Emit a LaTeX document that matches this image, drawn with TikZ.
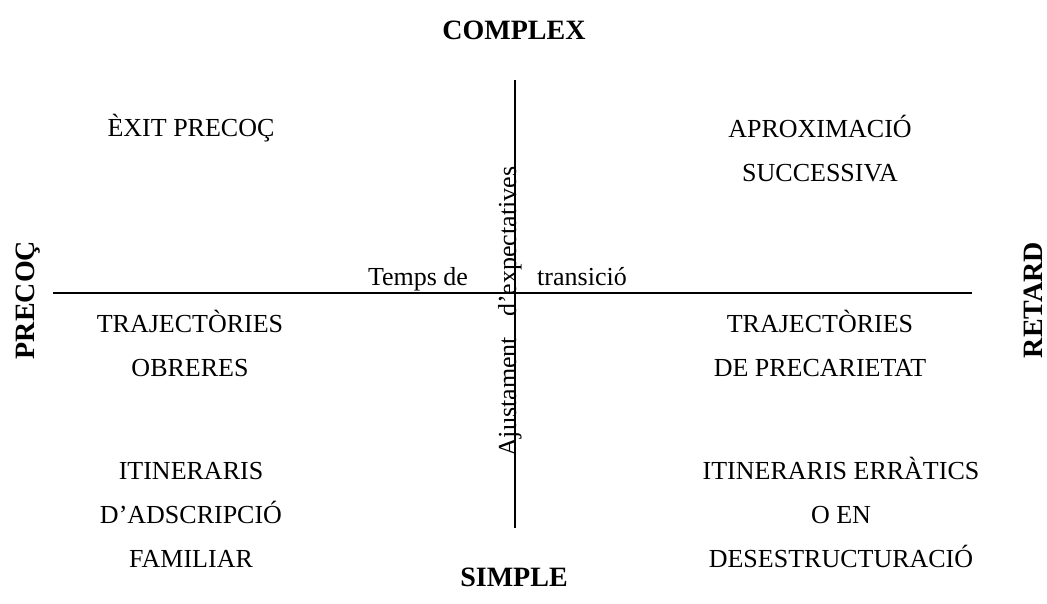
\documentclass[tikz,border=0pt]{standalone}
\usepackage{fontspec}
\setmainfont{Liberation Serif}
\usetikzlibrary{positioning}
\tikzset{
  quad/.style={font=\fontsize{26}{44}\selectfont, inner sep=0pt, anchor=base, align=center},
  pole/.style={font=\fontsize{28}{30}\selectfont\bfseries, inner sep=0pt, anchor=base},
  axis/.style={line width=1.2pt}
}

\begin{document}
\begin{tikzpicture}[x=1pt,y=-1pt]
\useasboundingbox (0,0) rectangle (1047,604);

\coordinate (T) at (515,80);
\coordinate (B) at (515,528);
\coordinate (L) at (53,293);
\coordinate (R) at (972,293);

\draw[axis] (T) -- (B);
\draw[axis] (L) -- (R);

\node[pole] (complex) at (514,40) {COMPLEX};
\node[pole] (simple) at (514,586) {SIMPLE};
\node[pole, rotate=90, anchor=center] (precoc) at (28,300) {PRECOÇ};
\node[pole, rotate=90, anchor=center] (retard) at (1033,300) {RETARD};

% base = last line of each block
\node[quad] (exit) at (191,137) {ÈXIT PRECOÇ};
\node[quad] (aprox) at (820,182) {APROXIMACIÓ\\SUCCESSIVA};
\node[quad] (obreres) at (190,376) {TRAJECTÒRIES\\OBRERES};
\node[quad] (precari) at (820,376) {TRAJECTÒRIES\\DE PRECARIETAT};
\node[quad] (familiar) at (191,567) {ITINERARIS\\D’ADSCRIPCIÓ\\FAMILIAR};
\node[quad] (erratics) at (841,567) {ITINERARIS ERRÀTICS\\O EN\\DESESTRUCTURACIÓ};

\node[quad] (temps) at (418,285) {Temps de};
\node[quad] (transicio) at (582,285) {transició};
\node[quad, rotate=90, anchor=base west] (ajust) at (516,457) {Ajustament\hspace{20pt}d’expectatives};
\end{tikzpicture}
\end{document}
